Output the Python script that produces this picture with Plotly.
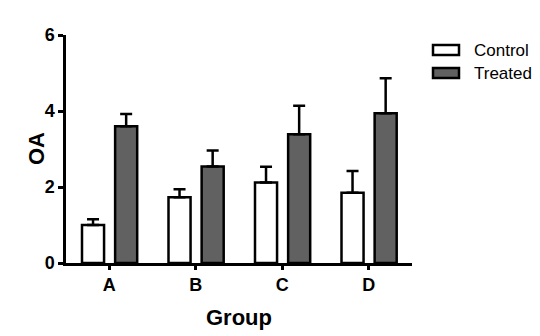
import plotly.graph_objects as go

# Data
groups = ["A", "B", "C", "D"]
control_mean = [1.0, 1.73, 2.12, 1.85]
control_sem = [0.15, 0.21, 0.41, 0.57]
treated_mean = [3.6, 2.54, 3.39, 3.94]
treated_sem = [0.32, 0.42, 0.75, 0.92]
y_ticks = [0, 2, 4, 6]

FONT = "Liberation Sans, Arial, sans-serif"
LW = 2.5
TREATED_FILL = "#616161"

# plot area in pixels
L, R, T, B = 66, 412, 35, 263
W, H = R - L, B - T

fig = go.Figure()

def add_series(name, means, sems, fill, offset):
    fig.add_trace(go.Bar(
        name=name,
        x=groups,
        y=means,
        width=0.255,
        offset=offset,
        marker=dict(color=fill, line=dict(color="black", width=LW)),
        error_y=dict(type="data", symmetric=False, array=sems,
                     arrayminus=[0] * len(sems), color="black",
                     thickness=LW, width=6),
        showlegend=False,
    ))

add_series("Control", control_mean, control_sem, "white", -0.315)
add_series("Treated", treated_mean, treated_sem, TREATED_FILL, 0.068)

fig.update_layout(
    width=540, height=336,
    margin=dict(l=L, r=540 - R, t=T, b=336 - B),
    paper_bgcolor="white", plot_bgcolor="white",
    font=dict(family=FONT, color="black"),
    xaxis=dict(
        type="category", range=[-0.5, 3.5],
        showline=True, linecolor="black", linewidth=LW,
        ticks="outside", ticklen=4, tickwidth=LW, tickcolor="black",
        tickfont=dict(size=18, weight="bold"),
        showgrid=False, zeroline=False,
    ),
    yaxis=dict(
        range=[0, 6], tickvals=y_ticks,
        showline=True, linecolor="black", linewidth=LW,
        ticks="outside", ticklen=5, tickwidth=LW, tickcolor="black",
        tickfont=dict(size=18, weight="bold"),
        showgrid=False, zeroline=False,
    ),
)

# Axis titles
fig.add_annotation(xref="paper", yref="paper", x=(36 - L) / W, y=0.5,
                   text="OA", textangle=-90, showarrow=False,
                   xanchor="center", yanchor="middle",
                   font=dict(size=22, weight="bold"))
fig.add_annotation(xref="paper", yref="paper", x=0.5, y=(B - 317) / H,
                   text="Group", showarrow=False,
                   xanchor="center", yanchor="middle",
                   font=dict(size=22, weight="bold"))

# Legend: outlined swatches with labels, right of the plot area
legend_items = [("Control", "white", 50), ("Treated", TREATED_FILL, 73)]
for label, fill, yc in legend_items:
    fig.add_shape(type="rect", xref="paper", yref="paper",
                  x0=(433 - L) / W, x1=(459 - L) / W,
                  y0=1 - (yc - 5 - T) / H, y1=1 - (yc + 5 - T) / H,
                  line=dict(color="black", width=LW), fillcolor=fill)
    fig.add_annotation(xref="paper", yref="paper",
                       x=(472 - L) / W, y=1 - (yc - T) / H,
                       xanchor="left", yanchor="middle", showarrow=False,
                       text=label, font=dict(size=17, color="black"))

fig.write_html("out.html")
